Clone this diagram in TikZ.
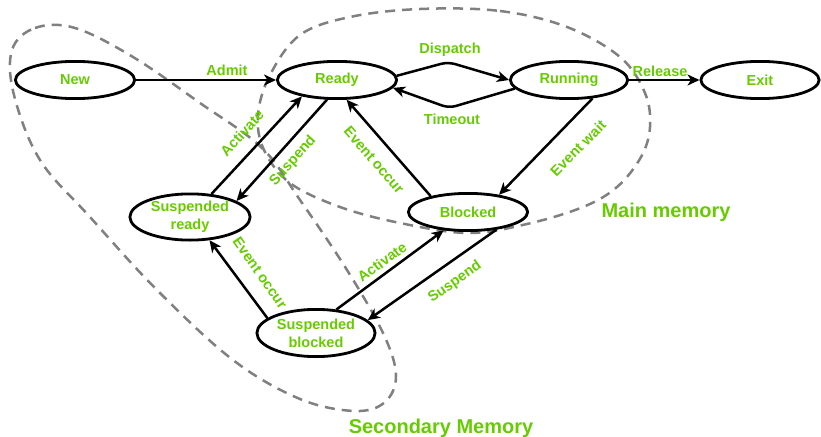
\documentclass[tikz,border=0pt]{standalone}
\usepackage{fontspec}
\setmainfont{Liberation Sans}
\usetikzlibrary{shapes.geometric,arrows.meta}
\definecolor{lblgreen}{RGB}{102,204,0}
\definecolor{memgray}{RGB}{128,128,128}
\begin{document}
\begin{tikzpicture}[x=1pt,y=-1pt,
  state/.style={ellipse, draw=black, line width=2.8pt, inner sep=0pt, align=center,
    text=lblgreen, font=\bfseries\fontsize{14.5}{18}\selectfont},
  conn/.style={draw=black, line width=2.5pt, -{Stealth[length=12pt,width=11pt,inset=3.5pt]}},
  lbl/.style={text=lblgreen, inner sep=0pt, font=\bfseries\fontsize{14.5}{17}\selectfont},
  biglbl/.style={text=lblgreen, inner sep=0pt, font=\bfseries\fontsize{20}{24}\selectfont},
  memline/.style={draw=memgray, line width=2.5pt, dash pattern=on 10pt off 7pt}]
\useasboundingbox (0,0) rectangle (821,436);
\fill[white] (0,0) rectangle (821,436);
% memory regions
\draw[memline] plot[smooth cycle, tension=0.6] coordinates {
  (12,50) (35,28) (75,28) (133,57) (200,103) (262,148) (300,200) (347,270)
  (383,333) (396,375) (385,402) (355,411) (300,399) (233,360) (157,290)
  (90,217) (40,160) (14,95)};
\draw[memline] plot[smooth cycle, tension=0.6] coordinates {
  (420,9) (500,11) (567,27) (620,57) (645,93) (650,127) (641,157) (617,187)
  (583,207) (527,224) (468,233) (400,223) (340,207) (290,183) (264,150)
  (258,115) (270,75) (300,35) (350,17)};
% states
\node[state, minimum width=119.2pt, minimum height=37.2pt] (new) at (75,80) {New};
\node[state, minimum width=119.2pt, minimum height=37.2pt] (ready) at (337,80) {Ready};
\node[state, minimum width=117.2pt, minimum height=37.2pt] (running) at (569,80) {Running};
\node[state, minimum width=118.2pt, minimum height=37.2pt] (exit) at (760,80) {Exit};
\node[state, minimum width=120.2pt, minimum height=46.2pt] (sready) at (190,217) {Suspended\\ready};
\node[state, minimum width=119.2pt, minimum height=37.2pt] (blocked) at (468,212) {Blocked};
\node[state, minimum width=118.2pt, minimum height=47.2pt] (sblocked) at (316,333) {Suspended\\blocked};
% connectors
\coordinate (dpeak) at (448,62);
\coordinate (tvalley) at (449,108);
\draw[conn] (new) -- (ready);
\draw[conn, rounded corners=7pt] (ready.4) -- (dpeak) -- (running.west);
\draw[conn, rounded corners=7pt] (running.189) -- (tvalley) -- (ready.352);
\draw[conn] (running) -- (exit);
\draw[conn] (running.322) -- (blocked.29);
\draw[conn] (blocked.157) -- (ready.296);
\draw[conn] (sready.47) -- (ready.205);
\draw[conn] (ready.243) -- (sready.19);
\draw[conn] (sblocked.163) -- (sready.310);
\draw[conn] (sblocked.49) -- (blocked.217);
\draw[conn] (blocked.328) -- (sblocked.14);
% labels
\node[lbl] (lAdmit) at (227,70) {Admit};
\node[lbl] (lDispatch) at (450,50) {Dispatch};
\node[lbl] (lTimeout) at (452,119) {Timeout};
\node[lbl] (lRelease) at (660,71) {Release};
\node[lbl, rotate=45] (lEwait) at (578,148) {Event wait};
\node[lbl, rotate=-49] (lEocc1) at (374,160) {Event occur};
\node[lbl, rotate=48] (lAct1) at (242,133) {Activate};
\node[lbl, rotate=48] (lSus1) at (293,161) {Suspend};
\node[lbl, rotate=-55] (lEocc2) at (260,273) {Event occur};
\node[lbl, rotate=36] (lAct2) at (382,262) {Activate};
\node[lbl, rotate=35] (lSus2) at (455,282) {Suspend};
\node[biglbl, anchor=base] (lMain) at (666,217) {Main memory};
\node[biglbl, anchor=base] (lSec) at (441,433) {Secondary Memory};
\end{tikzpicture}
\end{document}
